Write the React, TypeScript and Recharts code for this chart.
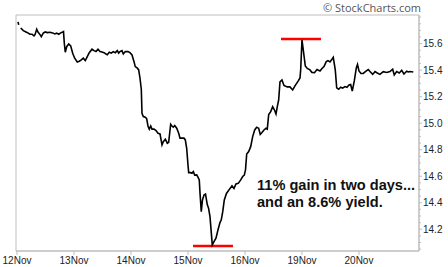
import React from 'react';
import { LineChart, Line, XAxis, YAxis, ReferenceLine, ReferenceArea } from 'recharts';

const dayLabels = ['12Nov', '13Nov', '14Nov', '15Nov', '16Nov', '19Nov', '20Nov'];
const dayTicks = [0, 1, 2, 3, 4, 5, 6];

const times = [
  0.018, 0.03, 0.04,
  0.065, 0.111, 0.158, 0.198, 0.228, 0.263, 0.298, 0.316, 0.346, 0.368, 0.404, 0.426, 0.461, 0.496, 0.532, 0.579,
  0.626, 0.661, 0.696, 0.732, 0.767, 0.802, 0.816, 0.83, 0.847, 0.872, 0.907, 0.942, 0.977, 1.012, 1.058, 1.093,
  1.128, 1.163, 1.198, 1.233, 1.268, 1.316, 1.351, 1.386, 1.421, 1.456, 1.491, 1.526, 1.561, 1.584, 1.619, 1.654,
  1.689, 1.725, 1.76, 1.784, 1.807, 1.842, 1.865, 1.9, 1.947, 1.982, 2.018, 2.053, 2.075, 2.111, 2.135, 2.158,
  2.181, 2.193, 2.216, 2.251, 2.275, 2.298, 2.321, 2.346, 2.368, 2.404, 2.439, 2.474, 2.509, 2.544, 2.567, 2.602,
  2.637, 2.661, 2.696, 2.719, 2.742, 2.767, 2.802, 2.837, 2.86, 2.895, 2.93, 2.953, 2.977, 3.0, 3.012, 3.047,
  3.07, 3.093, 3.118, 3.153, 3.175, 3.198, 3.211, 3.233, 3.254, 3.281, 3.307, 3.339, 3.36, 3.386, 3.426, 3.456,
  3.491, 3.526, 3.561, 3.584, 3.609, 3.637, 3.675, 3.719, 3.772, 3.807, 3.842, 3.882, 3.925, 3.96, 3.988, 4.009,
  4.03, 4.065, 4.1, 4.135, 4.17, 4.205, 4.24, 4.268, 4.298, 4.333, 4.368, 4.391, 4.416, 4.451, 4.486, 4.521,
  4.544, 4.567, 4.591, 4.614, 4.649, 4.684, 4.742, 4.789, 4.837, 4.877, 4.935, 4.965, 4.977, 5.0, 5.023, 5.058,
  5.093, 5.14, 5.175, 5.219, 5.263, 5.316, 5.351, 5.386, 5.426, 5.456, 5.491, 5.526, 5.549, 5.584, 5.609, 5.644,
  5.679, 5.714, 5.754, 5.789, 5.825, 5.854, 5.882, 5.918, 5.953, 5.974, 6.0, 6.035, 6.075, 6.123, 6.163, 6.193,
  6.24, 6.281, 6.321, 6.368, 6.426, 6.486, 6.544, 6.591, 6.619, 6.661, 6.707, 6.749, 6.789, 6.837, 6.865, 6.895,
  6.953,
];

const prices: (number | null)[] = [
  15.764, 15.741, null,
  15.718, 15.698, 15.688, 15.679, 15.671, 15.671, 15.658, 15.668, 15.709, 15.688, 15.668, 15.653, 15.679, 15.688, 15.683, 15.686,
  15.681, 15.673, 15.679, 15.671, 15.681, 15.688, 15.691, 15.603, 15.535, 15.577, 15.598, 15.583, 15.528, 15.49, 15.462, 15.467,
  15.477, 15.49, 15.472, 15.502, 15.532, 15.558, 15.547, 15.54, 15.558, 15.54, 15.537, 15.532, 15.522, 15.517, 15.535, 15.528,
  15.54, 15.532, 15.547, 15.528, 15.54, 15.547, 15.522, 15.54, 15.54, 15.532, 15.515, 15.464, 15.427, 15.415, 15.402, 15.339,
  15.256, 15.075, 15.05, 15.045, 15.034, 14.979, 14.955, 14.979, 14.955, 14.955, 14.944, 14.924, 14.919, 14.836, 14.861, 14.879,
  14.849, 14.856, 14.992, 14.979, 14.97, 14.982, 14.962, 14.924, 14.887, 14.887, 14.887, 14.874, 14.811, 14.685, 14.627, 14.627,
  14.623, 14.635, 14.608, 14.61, 14.593, 14.572, 14.472, 14.333, 14.421, 14.459, 14.466, 14.384, 14.361, 14.295, 14.082, 14.107,
  14.133, 14.195, 14.25, 14.271, 14.331, 14.421, 14.47, 14.497, 14.527, 14.508, 14.542, 14.546, 14.572, 14.598, 14.608, 14.648,
  14.768, 14.786, 14.823, 14.899, 14.949, 14.97, 14.962, 14.915, 14.929, 14.949, 14.962, 14.955, 15.066, 15.087, 15.125, 15.096,
  15.07, 15.125, 15.175, 15.311, 15.326, 15.285, 15.274, 15.274, 15.251, 15.281, 15.319, 15.341, 15.402, 15.628, 15.552, 15.432,
  15.413, 15.402, 15.383, 15.381, 15.405, 15.394, 15.413, 15.427, 15.464, 15.472, 15.462, 15.482, 15.497, 15.402, 15.266, 15.256,
  15.271, 15.264, 15.276, 15.271, 15.288, 15.292, 15.243, 15.319, 15.417, 15.443, 15.394, 15.375, 15.375, 15.392, 15.405, 15.39,
  15.368, 15.389, 15.379, 15.368, 15.389, 15.383, 15.389, 15.407, 15.364, 15.389, 15.379, 15.399, 15.371, 15.392, 15.386, 15.39,
  15.386,
];

const yMajorTicks = [14.2, 14.4, 14.6, 14.8, 15.0, 15.2, 15.4, 15.6];
const yAllTicks = [
  14.05, 14.1, 14.15, 14.2, 14.25, 14.3, 14.35, 14.4, 14.45, 14.5, 14.55, 14.6, 14.65, 14.7, 14.75, 14.8,
  14.85, 14.9, 14.95, 15.0, 15.05, 15.1, 15.15, 15.2, 15.25, 15.3, 15.35, 15.4, 15.45, 15.5, 15.55, 15.6,
  15.65, 15.7, 15.75, 15.8,
];

const xDomain = [-0.0175, 7.053];
const yDomain = [14.036, 15.816];

const peakMark = { from: 4.632, to: 5.333, value: 15.635 };
const troughMark = { from: 3.088, to: 3.789, value: 14.074 };

const noteLines = ['11% gain in two days...', 'and an 8.6% yield.'];
const watermark = '\u00A9 StockCharts.com';

const data = times.map((t, i) => ({ t, p: prices[i] }));

const FONT = '"Liberation Sans", Arial, sans-serif';
const FRAME = '#bdbdbd';

const YTick = (props: any) => {
  const { x, y, payload } = props;
  const v = payload.value as number;
  const major = yMajorTicks.some((m) => Math.abs(m - v) < 1e-6);
  const ax = x - 4;
  return (
    <g>
      <line x1={ax} x2={ax + (major ? 3 : 2)} y1={y} y2={y} stroke={FRAME} strokeWidth={1} />
      {major && (
        <text x={x} y={y} dy="0.355em" fontSize={10} fill="#222" fontFamily={FONT} textAnchor="start">
          {v.toFixed(1)}
        </text>
      )}
    </g>
  );
};

export default function App() {
  return (
    <div style={{ position: 'absolute', left: 0, top: 0, width: 448, height: 267, background: '#fff' }}>
      <LineChart
        width={448}
        height={267}
        data={data}
        margin={{ top: 15, right: 0, bottom: 0, left: 16 }}
      >
        <XAxis
          dataKey="t"
          type="number"
          domain={xDomain}
          allowDataOverflow
          ticks={dayTicks}
          tickFormatter={(v: number) => dayLabels[Math.round(v)] ?? ''}
          height={16}
          tickSize={4}
          tickMargin={2}
          axisLine={{ stroke: FRAME }}
          tickLine={{ stroke: FRAME }}
          tick={{ fontSize: 10, fill: '#222', fontFamily: FONT }}
          interval={0}
        />
        <YAxis
          orientation="right"
          type="number"
          domain={yDomain}
          allowDataOverflow
          ticks={yAllTicks}
          width={29}
          tickSize={3}
          tickMargin={1}
          axisLine={{ stroke: FRAME }}
          tickLine={false}
          tick={<YTick />}
          interval={0}
        />
        <ReferenceArea
          x1={xDomain[0]}
          x2={xDomain[1]}
          y1={yDomain[0]}
          y2={yDomain[1]}
          fill="none"
          stroke={FRAME}
          strokeWidth={1}
          ifOverflow="visible"
        />
        <ReferenceLine
          segment={[{ x: peakMark.from, y: peakMark.value }, { x: peakMark.to, y: peakMark.value }]}
          stroke="#ff0000"
          strokeWidth={2.5}
          ifOverflow="visible"
        />
        <ReferenceLine
          segment={[{ x: troughMark.from, y: troughMark.value }, { x: troughMark.to, y: troughMark.value }]}
          stroke="#ff0000"
          strokeWidth={2.5}
          ifOverflow="visible"
        />
        <Line
          type="linear"
          dataKey="p"
          stroke="#000"
          strokeWidth={1.6}
          dot={false}
          activeDot={false}
          connectNulls={false}
          isAnimationActive={false}
        />
      </LineChart>
      <div
        style={{
          position: 'absolute',
          left: 323,
          top: 0,
          fontFamily: '"Open Sans", "Noto Sans", sans-serif',
          fontSize: 11,
          lineHeight: '15px',
          color: '#555',
          whiteSpace: 'nowrap',
        }}
      >
        {watermark}
      </div>
      <div
        style={{
          position: 'absolute',
          left: 257,
          top: 177,
          fontFamily: FONT,
          fontWeight: 'bold',
          fontSize: 14.6,
          lineHeight: '17.4px',
          color: '#111',
          whiteSpace: 'nowrap',
        }}
      >
        {noteLines.map((l) => (
          <div key={l}>{l}</div>
        ))}
      </div>
    </div>
  );
}
